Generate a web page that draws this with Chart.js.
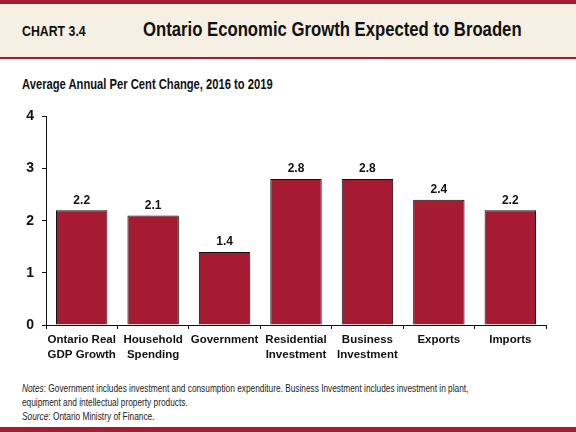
<!DOCTYPE html>
<html>
<head>
    <title>Ontario Economic Growth Expected to Broaden</title>
    <script src="https://cdn.jsdelivr.net/npm/chart.js"></script>
    <style>
        :root {
            --red: #a51b32;
            --beige: #f6efe3;
        }

        body {
            margin: 0;
            width: 576px;
            height: 432px;
            position: relative;
            overflow: hidden;
            background: white;
            font-family: 'Liberation Sans', Arial, sans-serif;
        }

        .header {
            position: absolute;
            left: 0; top: 0;
            width: 576px;
            height: 53px;
            background: var(--beige);
            border-top: 4px solid var(--red);
            border-bottom: 2px solid var(--red);
        }

        /* condensed look, like Arial Narrow */
        .narrow {
            position: absolute;
            white-space: nowrap;
            transform-origin: left top;
        }

        .chart-no {
            left: 22px; top: 19px;
            font-size: 14px;
            font-weight: bold;
            color: #111;
            transform: scaleX(0.88);
        }

        .chart-title {
            left: 143px; top: 14px;
            font-size: 20px;
            font-weight: bold;
            color: #111;
            transform: scaleX(0.835);
        }

        .subtitle {
            left: 22px; top: 76px;
            font-size: 14px;
            font-weight: bold;
            color: #111;
            transform: scaleX(0.8);
        }

        .notes {
            left: 22px; top: 381px;
            font-size: 11px;
            line-height: 14px;
            color: #222;
            transform: scaleX(0.755);
        }

        .footer {
            position: absolute;
            left: 0; bottom: 0;
            width: 576px;
            height: 5px;
            background: var(--red);
        }

        #wrap {
            position: absolute;
            left: 0; top: 100px;
            width: 576px; height: 270px;
        }
    </style>
</head>
<body>
    <div class="header">
        <div class="narrow chart-no">CHART 3.4</div>
        <div class="narrow chart-title">Ontario Economic Growth Expected to Broaden</div>
    </div>
    <div class="narrow subtitle">Average Annual Per Cent Change, 2016 to 2019</div>

    <div id="wrap"><canvas id="growthChart"></canvas></div>

    <div class="narrow notes">
        <i>Notes</i>: Government includes investment and consumption expenditure. Business Investment includes investment in plant,<br>
        equipment and intellectual property products.<br>
        <i>Source</i>: Ontario Ministry of Finance.
    </div>
    <div class="footer"></div>

<script>
    // 数据
    const categories = [
        ['Ontario Real', 'GDP Growth'],
        ['Household', 'Spending'],
        'Government',
        ['Residential', 'Investment'],
        ['Business', 'Investment'],
        'Exports',
        'Imports'
    ];
    const growth = [2.2, 2.1, 1.4, 2.8, 2.8, 2.4, 2.2];
    const yTicks = [0, 1, 2, 3, 4];

    const fontFamily = "'Liberation Sans', Arial, sans-serif";

    // bar value labels
    const valueLabels = {
        id: 'valueLabels',
        afterDatasetsDraw(chart) {
            const ctx = chart.ctx;
            const meta = chart.getDatasetMeta(0);
            ctx.save();
            ctx.font = 'bold 12px ' + fontFamily;
            ctx.fillStyle = '#111';
            ctx.textAlign = 'center';
            ctx.textBaseline = 'bottom';
            meta.data.forEach((bar, i) => {
                ctx.fillText(growth[i].toFixed(1), bar.x, bar.y - 4);
            });
            ctx.restore();
        }
    };

    new Chart(document.getElementById('growthChart'), {
        type: 'bar',
        data: {
            labels: categories,
            datasets: [{
                data: growth,
                backgroundColor: '#a51b32',
                borderColor: '#111',
                borderWidth: 1,
                categoryPercentage: 0.72,
                barPercentage: 1
            }]
        },
        options: {
            responsive: true,
            maintainAspectRatio: false,
            animation: false,
            layout: { padding: { top: 16, right: 30, left: 0, bottom: 0 } },
            plugins: {
                legend: { display: false },
                tooltip: { enabled: false }
            },
            scales: {
                x: {
                    afterFit: s => { s.height = 45; },
                    grid: { drawOnChartArea: false, drawTicks: true, tickLength: 4, color: '#111' },
                    border: { color: '#111', width: 1 },
                    ticks: {
                        color: '#111',
                        padding: 3,
                        maxRotation: 0,
                        autoSkip: false,
                        font: { family: fontFamily, size: 11.5, weight: 'bold', lineHeight: 1.3 }
                    }
                },
                y: {
                    min: 0,
                    max: 4,
                    afterFit: s => { s.width = 46; },
                    afterBuildTicks: s => { s.ticks = yTicks.map(v => ({ value: v })); },
                    grid: { drawOnChartArea: false, drawTicks: true, tickLength: 4, color: '#111' },
                    border: { color: '#111', width: 1 },
                    ticks: {
                        color: '#111',
                        padding: 8,
                        font: { family: fontFamily, size: 14, weight: 'bold' }
                    }
                }
            }
        },
        plugins: [valueLabels]
    });
</script>
</body>
</html>
